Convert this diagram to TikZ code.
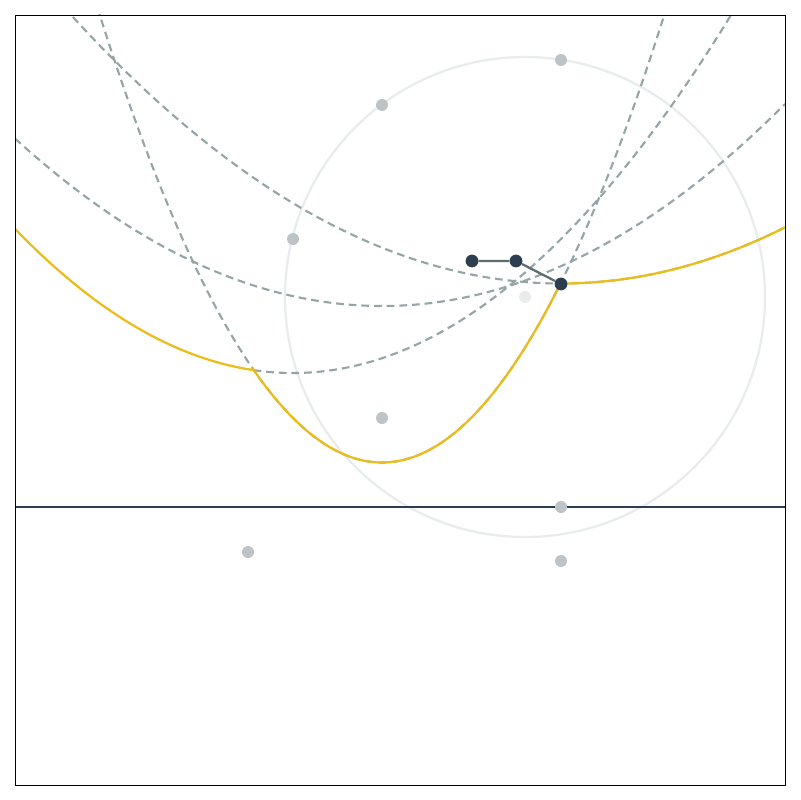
\documentclass[tikz,border=0pt]{standalone}
\usetikzlibrary{calc}

\definecolor{navy}{HTML}{2C3E50}
\definecolor{sitegray}{HTML}{BDC3C7}
\definecolor{dashgray}{HTML}{95A5A6}
\definecolor{beachyellow}{HTML}{EBBD1C}
\definecolor{circlegray}{HTML}{E8ECED}
\definecolor{edgegray}{HTML}{5D6D6E}

\tikzset{
  site/.style={circle,fill=sitegray,inner sep=0pt,minimum size=0.3cm},
  vertex/.style={circle,fill=navy,inner sep=0pt,minimum size=0.32cm},
  center/.style={circle,fill=circlegray,inner sep=0pt,minimum size=0.3cm},
  arcline/.style={dashgray,line width=1.5pt,dash pattern=on 5.5pt off 3.5pt},
  beachline/.style={beachyellow,line width=1.6pt},
  edgeline/.style={edgegray,line width=1.6pt}
}

\begin{document}
\begin{tikzpicture}[x=0.025cm,y=-0.025cm]
  \useasboundingbox (0,0) rectangle (800,800);
  \fill[white] (0,0) rectangle (800,800);
  % circle event
  \draw[circlegray,line width=1.6pt] (525,297) circle (240);
  \begin{scope}
    \clip (15,15) rectangle (785,785);
    % parabolas of the sites above the sweep line
    \draw[arcline] plot[domain=15:785,samples=160] (\x,{283.5-11.186*((\x-561)/100)^2});
    \draw[arcline] plot[domain=15:785,samples=160] (\x,{306-12.438*((\x-382)/100)^2});
    \draw[arcline] plot[domain=253.6:785,samples=160] (\x,{373-18.657*((\x-293)/100)^2});
    \draw[arcline] plot[domain=90:680,samples=200] (\x,{462.5-56.18*((\x-382)/100)^2});
    % beach line
    \draw[beachline] plot[domain=15:253.6,samples=80] (\x,{373-18.657*((\x-293)/100)^2})
      -- plot[domain=253.6:561,samples=120] (\x,{462.5-56.18*((\x-382)/100)^2})
      -- plot[domain=561:785,samples=80] (\x,{283.5-11.186*((\x-561)/100)^2});
  \end{scope}
  % sweep line
  \coordinate (sweepL) at (15,507);
  \coordinate (sweepR) at (785,507);
  \draw[navy,line width=1.5pt] (sweepL) -- (sweepR);
  % sites
  \node[site] (s1) at (561,60) {};
  \node[site] (s2) at (382,105) {};
  \node[site] (s3) at (293,239) {};
  \node[site] (s4) at (382,418) {};
  \node[site] (s5) at (561,507) {};
  \node[site] (s6) at (248,552) {};
  \node[site] (s7) at (561,561) {};
  \node[center] (c) at (525,297) {};
  % voronoi edges
  \node[vertex] (v1) at (472,261) {};
  \node[vertex] (v2) at (516,261) {};
  \node[vertex] (v3) at (561,284) {};
  \draw[edgeline] (v1) -- (v2) -- (v3);
  % frame
  \draw[line width=0.7pt] (15,15) rectangle (785,785);
\end{tikzpicture}
\end{document}
